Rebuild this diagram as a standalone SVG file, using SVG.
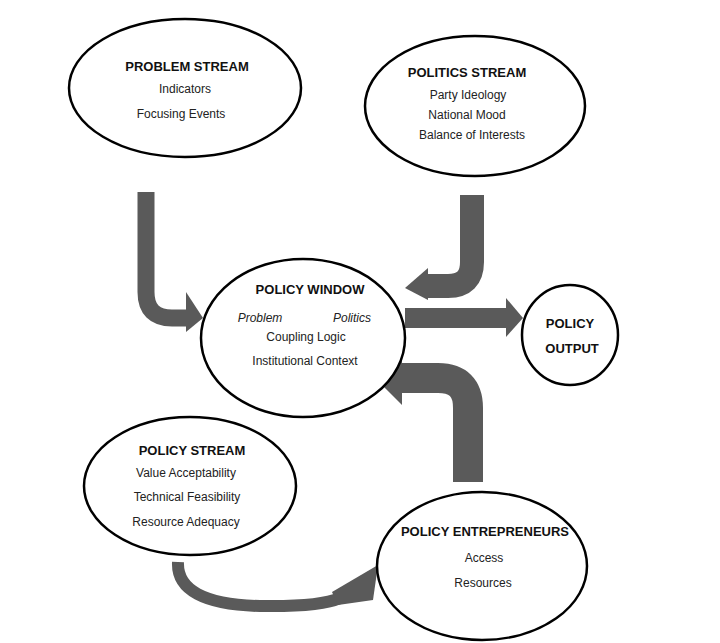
<svg xmlns="http://www.w3.org/2000/svg" width="720" height="643" viewBox="0 0 720 643">
<style>
.n{fill:#fff;stroke:#000;stroke-width:2.5}
text{font-family:"Liberation Sans",Arial,sans-serif;font-size:12px;fill:#222;text-anchor:middle}
.t{font-weight:bold;font-size:13px;fill:#111}
.a{fill:none;stroke:#5a5a5a}
.h{fill:#5a5a5a}
</style>
<rect width="720" height="643" fill="#fff"/>
<g id="connectors">
<path class="a" stroke-width="17" d="M146 192 V292 Q146 318 172 318 H188"/>
<polygon class="h" points="186,292 203,318 186,332"/>
<path class="a" stroke-width="24" d="M472 195 V262 Q472 286 448 286 H425"/>
<polygon class="h" points="428,268 405,288 428,300"/>
<path class="a" stroke-width="20" d="M405 318 H508"/>
<polygon class="h" points="506,298 523,318 506,337"/>
<path class="a" stroke-width="30" d="M468 482 V408 Q468 378 438 378 H398"/>
<polygon class="h" points="402,352 375,378 402,405"/>
<path class="a" stroke-width="12" d="M178 562 Q176 604 260 606 Q320 607 340 598"/>
<polygon class="h" points="332,592 378,565 373,600 338,605"/>
</g>
<g id="problem"><ellipse class="n" cx="185" cy="88" rx="116" ry="69"/>
<text class="t" x="187" y="71">PROBLEM STREAM</text><text x="185" y="93">Indicators</text><text x="181" y="118">Focusing Events</text></g>
<g id="politics"><ellipse class="n" cx="475" cy="106" rx="110" ry="70"/>
<text class="t" x="467" y="77">POLITICS STREAM</text><text x="468" y="99">Party Ideology</text><text x="467" y="119">National Mood</text><text x="472" y="139">Balance of Interests</text></g>
<g id="window"><ellipse class="n" cx="303" cy="338" rx="102" ry="79"/>
<text class="t" x="310" y="294">POLICY WINDOW</text><text x="260" y="322" font-style="italic">Problem</text><text x="352" y="322" font-style="italic">Politics</text><text x="306" y="341">Coupling Logic</text><text x="305" y="365">Institutional Context</text></g>
<g id="output"><ellipse class="n" cx="570" cy="335" rx="48" ry="50"/>
<text class="t" x="570" y="328">POLICY</text><text class="t" x="572" y="353">OUTPUT</text></g>
<g id="stream"><ellipse class="n" cx="190" cy="486" rx="106" ry="69"/>
<text class="t" x="192" y="455">POLICY STREAM</text><text x="186" y="477">Value Acceptability</text><text x="187" y="501">Technical Feasibility</text><text x="186" y="526">Resource Adequacy</text></g>
<g id="entrepreneurs"><ellipse class="n" cx="482" cy="566" rx="105" ry="74"/>
<text class="t" x="485" y="536">POLICY ENTREPRENEURS</text><text x="484" y="562">Access</text><text x="483" y="587">Resources</text></g>
</svg>
